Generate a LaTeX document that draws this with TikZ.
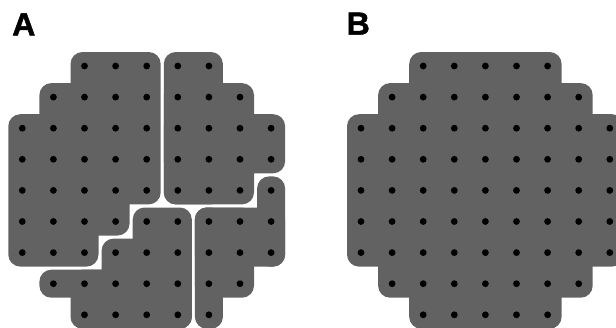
\documentclass[tikz,border=0pt]{standalone}
\usepackage{fontspec}
\setmainfont{Liberation Sans}
\newfontfamily\labfont[FakeBold=1.5]{Liberation Sans Bold}
\begin{document}
\begin{tikzpicture}[x=1pt,y=-1pt,
  blob/.style={fill=blobgray, rounded corners=12pt},
  pin/.style={fill=black},
  panellabel/.style={inner sep=0pt, font=\fontsize{32}{32}\labfont}]
\definecolor{blobgray}{RGB}{98,98,98}
\useasboundingbox (0,0) rectangle (616,327);
\clip (0,0) rectangle (616,327);
% #1 = x of column 0, #2 c1, #3 r1, #4 c2, #5 r2
\newcommand{\myblk}[5]{\fill[blob] ({#1+#2*31.1-14},{66+#3*31.1-14}) rectangle ({#1+#4*31.1+14},{66+#5*31.1+14});}
% ---------- Panel A ----------
\def\xA{22.3}
% region 1
\myblk{\xA}{2}{0}{4}{4}
\myblk{\xA}{1}{1}{3}{5}
\myblk{\xA}{0}{2}{2}{6}
% region 2
\myblk{\xA}{5}{0}{6}{4}
\myblk{\xA}{5}{1}{7}{4}
\myblk{\xA}{5}{2}{8}{3}
% region 3
\myblk{\xA}{4}{5}{5}{8}
\myblk{\xA}{3}{6}{5}{8}
\myblk{\xA}{2}{7}{5}{8}
\myblk{\xA}{1}{7}{5}{7}
% region 4
\myblk{\xA}{8}{4}{8}{6}
\myblk{\xA}{6}{5}{8}{6}
\myblk{\xA}{6}{5}{7}{7}
\myblk{\xA}{6}{5}{6}{8}
% ---------- Panel B ----------
\def\xB{361}
\myblk{\xB}{2}{0}{6}{8}
\myblk{\xB}{1}{1}{7}{7}
\myblk{\xB}{0}{2}{8}{6}
% ---------- dots ----------
\foreach \r/\a/\b in {0/2/6,1/1/7,2/0/8,3/0/8,4/0/8,5/0/8,6/0/8,7/1/7,8/2/6}{
  \foreach \c in {\a,...,\b}{
    \fill[pin] ({\xA+\c*31.1},{66+\r*31.1}) circle (3.4pt);
    \fill[pin] ({\xB+\c*31.1},{66+\r*31.1}) circle (3.4pt);
  }
}
% ---------- labels ----------
\node[panellabel] (labA) at (23.8,24.4) {A};
\node[panellabel] (labB) at (358.3,23.6) {B};
\end{tikzpicture}
\end{document}
